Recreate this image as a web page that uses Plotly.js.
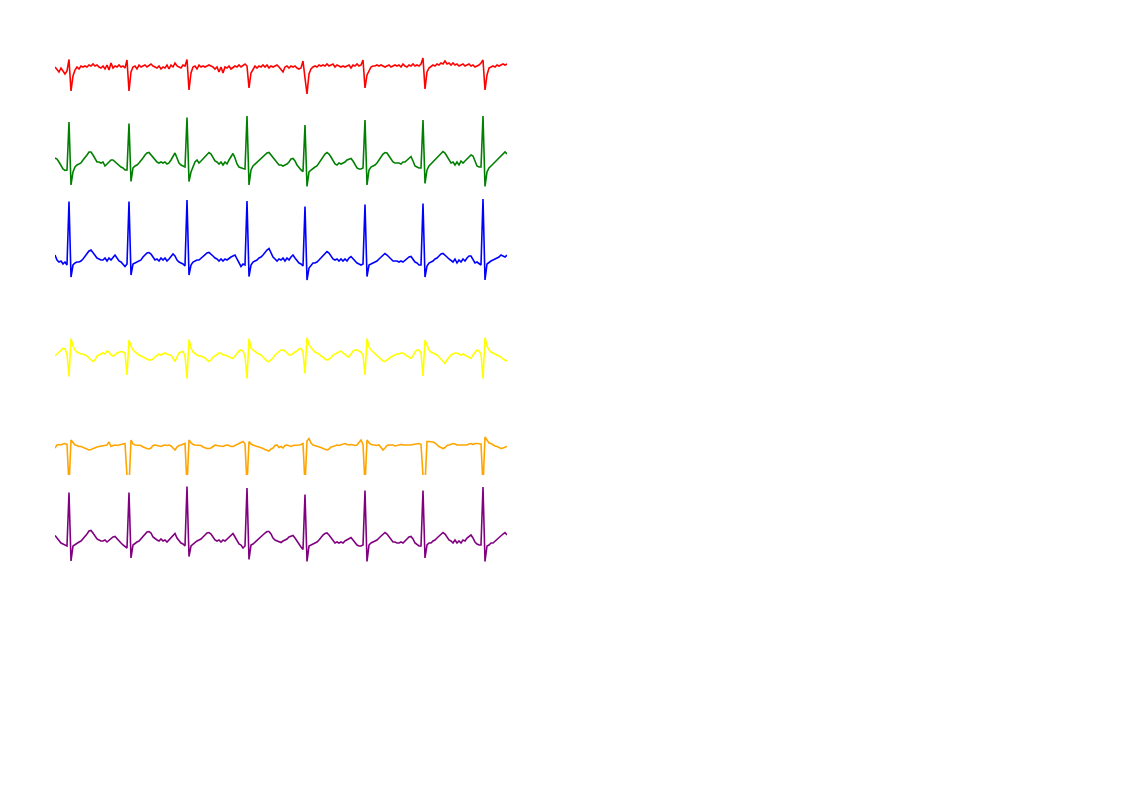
<!DOCTYPE html>
<html>
<head>
<meta charset="utf-8">
<script src="https://cdn.plot.ly/plotly-3.0.1.min.js"></script>
<style>
html,body{margin:0;padding:0;background:#ffffff;}
#chart{width:1122px;height:793px;}
</style>
</head>
<body>
<div id="chart"></div>
<script>
// Sampling interval of every lead, seconds
const sampleInterval = 0.025;

const leadNames = ['I', 'II', 'III', 'aVR', 'aVL', 'aVF'];

// Lead values in mV, one sample per interval
const leadI = [
  .02,-.04,-.08,0,-.06,-.12,-.06,.17,-.46,-.16,
  -.04,.02,-.02,.04,.02,.04,.02,.06,.04,.08,
  .04,.06,.02,0,.04,-.02,.06,-.04,.10,0,
  .04,.02,.06,.02,.04,0,.16,-.46,-.08,.02,
  .04,-.02,.06,.02,.04,.06,.02,.06,.08,.04,
  .02,0,.04,-.02,.02,0,.06,-.02,.06,.02,
  .10,.04,.02,0,.06,.04,.17,-.44,-.10,.02,
  .04,-.02,.06,.02,.04,.02,.04,.06,.04,.02,
  -.02,.02,-.08,.02,-.10,.02,0,.04,-.02,.02,
  .04,.02,.06,.02,.06,.08,.04,-.40,-.10,-.02,
  .04,0,.04,.02,.06,.02,.06,0,.04,.02,
  .04,.06,.02,-.04,-.08,.02,.04,0,.04,.02,
  .04,0,-.02,0,.14,-.20,-.52,-.12,-.02,.02,
  .04,.02,.06,.04,.06,.04,.08,.04,.06,.08,
  .02,.06,.04,.02,.04,.02,.04,.06,0,.06,
  .04,.08,.04,.06,.16,-.40,-.14,-.04,.02,.04,
  .04,.06,.04,.06,.04,.02,.04,.06,.02,.04,
  .06,.04,.06,.02,.08,.04,.02,.06,.04,.08,
  .04,.06,.04,.08,.20,-.42,-.08,0,.04,.06,
  .04,.08,.06,.10,.08,.14,.08,.10,.06,.10,
  .06,.08,.04,.06,.08,.04,.06,.08,.04,.06,
  .02,.04,.06,.10,.16,-.44,-.14,0,.02,.04,
  .02,.06,.04,.06,.08,.06,.08
];

const leadII = [
  .08,.06,0,-.08,-.14,-.17,-.16,.80,-.46,-.20,
  -.10,-.06,-.04,-.02,.04,.08,.14,.20,.20,.14,
  .06,0,0,-.02,0,-.08,-.04,0,.04,.04,
  0,-.04,-.08,-.10,-.12,-.16,-.16,.77,-.39,-.12,
  -.08,-.06,-.02,.02,.08,.14,.18,.19,.14,.08,
  .04,0,-.02,0,-.02,0,-.04,-.02,.04,.12,
  .18,.08,-.02,-.06,-.08,-.10,.89,-.39,-.20,-.08,
  0,.04,-.02,.02,.06,.10,.16,.19,.16,.08,
  .02,0,-.04,0,-.06,0,-.04,.04,.12,.17,
  .08,-.04,-.10,-.12,-.13,-.14,.92,-.46,-.16,-.08,
  -.04,0,.02,.06,.10,.14,.18,.19,.14,.08,
  .02,-.02,-.06,-.06,-.08,-.06,-.04,0,.06,.07,
  .02,-.06,-.12,-.16,-.19,.74,-.49,-.20,-.16,-.12,
  -.10,-.08,-.02,.06,.12,.16,.19,.16,.10,.02,
  -.04,-.06,-.02,-.04,-.02,0,.04,.06,.07,.02,
  -.06,-.12,-.14,-.14,-.12,.84,-.46,-.16,-.10,-.08,
  -.06,-.02,.04,.10,.16,.19,.18,.12,.06,0,
  -.02,-.02,-.02,-.04,0,0,.04,.08,.11,.02,
  -.08,-.10,-.12,-.12,.84,-.43,-.16,-.08,-.04,0,
  .04,.08,.12,.18,.21,.18,.12,.04,-.02,0,
  -.06,0,-.06,.02,-.02,.02,.06,.10,.14,.12,
  0,-.08,-.10,-.10,.92,-.49,-.20,-.12,-.08,-.03,
  0,.04,.08,.10,.14,.20,.16
];

const leadIII = [
  .08,-.02,-.06,-.04,-.10,-.06,-.12,1.15,-.36,-.12,
  -.08,-.06,-.06,-.04,0,.06,.12,.16,.18,.12,
  .06,.02,0,-.02,-.02,.02,-.04,.02,-.02,.04,
  .08,.02,-.04,-.06,-.10,-.15,-.10,1.15,-.32,-.10,
  -.08,-.06,-.04,-.02,.04,.08,.12,.13,.10,.04,
  -.02,0,-.04,.02,-.02,.02,-.04,0,.04,.10,
  .06,-.02,-.06,-.08,-.10,-.14,1.18,-.32,-.12,-.06,
  -.04,-.02,-.02,.02,.04,.08,.12,.13,.10,.06,
  .02,0,-.04,0,-.04,0,-.02,.02,.04,.06,
  .08,0,-.08,-.15,-.10,-.12,1.16,-.35,-.12,-.06,
  -.04,-.02,.02,.04,.08,.14,.18,.21,.12,.04,
  0,-.04,0,-.02,.02,-.04,.02,-.02,.04,.08,
  .02,-.04,-.08,-.10,-.14,1.05,-.42,-.18,-.12,-.08,
  -.08,-.06,-.02,.02,.08,.12,.15,.12,.06,0,
  -.02,0,-.04,0,-.04,0,-.04,.02,.05,0,
  -.04,-.08,-.10,-.12,-.10,1.09,-.35,-.12,-.10,-.08,
  -.06,-.04,0,.04,.08,.11,.08,.04,0,-.04,
  -.04,-.04,-.06,-.04,-.06,-.02,0,.04,.05,0,
  -.06,-.08,-.12,-.12,1.11,-.36,-.14,-.08,-.06,-.04,
  0,.02,.06,.10,.11,.08,.04,0,-.04,-.06,
  0,-.08,-.02,-.06,0,-.04,.02,.06,.06,-.02,
  -.08,-.06,-.10,-.12,1.20,-.42,-.10,-.06,-.04,-.02,
  0,.02,.04,.08,.06,.04,.08
];

const leadAVR = [
  -.02,.02,.06,.10,.13,.12,.02,-.43,.33,.18,
  .10,.06,.04,.02,.02,0,-.02,-.06,-.10,-.13,
  -.10,-.02,0,.02,.04,.02,.08,.06,0,-.02,
  0,.04,.06,.07,.06,.04,-.40,.30,.18,.10,
  .06,.02,0,-.02,-.04,-.06,-.08,-.10,-.10,-.08,
  -.04,0,.02,0,.02,.04,.02,0,0,-.06,
  -.13,-.04,.04,.06,.07,-.02,-.47,.31,.14,.06,
  .02,0,-.02,-.02,-.04,-.06,-.10,-.13,-.10,-.04,
  -.02,.02,.04,.04,0,0,-.02,-.04,-.06,-.07,
  -.02,.04,.08,.10,.08,-.02,-.47,.33,.14,.10,
  .06,.04,.02,0,-.04,-.08,-.12,-.13,-.10,-.06,
  0,.04,.06,.10,.10,.08,.04,0,0,.04,
  .06,.08,.12,.13,.06,-.37,.35,.20,.14,.10,
  .06,.04,.02,-.02,-.04,-.08,-.10,-.08,-.06,0,
  .02,.04,.06,.08,.04,0,-.02,-.04,.02,.08,
  .10,.10,.08,.06,0,-.40,.33,.16,.10,.06,
  .02,0,-.04,-.08,-.12,-.13,-.10,-.06,-.04,-.02,
  0,.02,.02,.04,.04,0,-.02,-.04,-.07,-.02,
  .06,.10,.10,.04,-.42,.30,.18,.10,.06,.04,
  .02,0,-.04,-.08,-.12,-.17,-.10,-.04,0,.02,
  .04,.04,.02,0,.02,0,-.02,-.04,-.07,0,
  .06,.10,.08,.02,-.47,.35,.18,.10,.06,.04,
  .02,0,-.02,-.04,-.08,-.10,-.12
];

const leadAVL = [
  -.04,.02,.03,.02,.04,.05,.03,-.80,.12,.06,
  .02,.01,-.01,-.01,-.03,-.05,-.06,-.08,-.07,-.05,
  -.04,-.02,-.01,0,.01,.02,.02,.08,-.01,.01,
  .02,.01,.02,.04,.05,.05,-.60,-.81,.12,.04,
  .02,.02,.01,.01,-.02,-.04,-.05,-.06,-.04,.01,
  .02,.01,0,-.01,.01,.02,.01,.02,0,-.05,
  -.08,-.02,.01,.02,.04,.05,-.81,.12,.06,.03,
  .02,.02,.02,.01,-.02,-.04,-.05,-.05,-.04,-.01,
  .02,.01,0,-.01,-.01,.01,.02,.01,-.01,-.01,
  .01,.03,.05,.07,.09,.04,-.78,.09,.04,.02,
  0,-.01,-.02,-.03,-.05,-.07,-.09,-.10,-.06,-.04,
  .01,.02,-.03,-.01,-.04,.01,.02,0,-.01,.01,
  .01,.02,.02,.03,.05,-.78,.10,.15,.06,.02,
  .01,-.01,-.02,-.03,-.05,-.07,-.08,-.06,-.02,-.01,
  .01,.02,.01,.02,.04,.05,.03,.02,.03,.02,
  .01,.02,.06,.12,.03,-.78,.12,.06,.03,.02,
  .02,.01,.02,-.03,-.08,-.04,.01,.02,.02,.02,
  0,.01,.02,.03,.02,.02,.01,.02,.02,.03,
  .04,.05,.05,.03,-.60,-.78,.09,.09,.09,.08,
  .06,.02,-.01,-.03,-.05,-.03,.01,.02,.03,.05,
  .04,.02,.02,.02,.03,.02,.02,.04,.05,.03,
  .05,.05,.04,.04,-.81,.18,.12,.06,.05,.02,
  0,-.01,-.03,-.05,-.04,-.02,-.01
];

const leadAVF = [
  .09,.04,-.02,-.06,-.08,-.10,-.12,.95,-.42,-.12,
  -.09,-.06,-.04,-.02,.02,.08,.12,.18,.19,.14,
  .08,.02,0,-.02,-.02,0,-.04,0,.02,.06,
  .07,.02,-.02,-.06,-.10,-.14,-.16,.95,-.36,-.10,
  -.06,-.04,-.02,.02,.08,.12,.16,.17,.14,.06,
  .02,0,-.02,.02,-.02,0,-.04,0,.04,.10,
  .13,.04,-.02,-.06,-.08,-.12,1.07,-.33,-.12,-.08,
  -.04,-.02,0,.02,.06,.10,.14,.15,.12,.06,
  0,-.02,0,-.04,0,-.02,.02,.06,.10,.13,
  .06,-.02,-.08,-.10,-.16,-.12,1.04,-.39,-.10,-.08,
  -.04,-.02,.02,.06,.10,.14,.17,.17,.12,.04,
  0,-.02,-.04,-.05,-.02,0,.02,.06,.08,.09,
  .04,-.02,-.10,-.14,-.19,.91,-.43,-.12,-.10,-.08,
  -.06,-.04,0,.06,.10,.13,.14,.10,.04,-.02,
  -.06,-.04,-.06,-.04,-.06,-.02,0,.02,.05,0,
  -.06,-.10,-.12,-.12,-.10,.99,-.43,-.10,-.06,-.04,
  -.02,0,.04,.08,.12,.15,.12,.06,.02,-.04,
  -.04,-.06,-.06,-.04,-.06,-.02,.02,.06,.07,.02,
  -.06,-.10,-.12,-.12,.99,-.36,-.10,-.06,-.06,-.02,
  0,.04,.08,.12,.15,.12,.06,0,-.02,-.06,
  0,-.06,-.02,-.06,0,-.02,.04,.08,.10,.04,
  -.04,-.08,-.10,-.10,1.06,-.43,-.12,-.10,-.06,-.06,
  -.02,0,.04,.08,.12,.15,.10
];

const leads = [leadI, leadII, leadIII, leadAVR, leadAVL, leadAVF];

// ---- styling / layout (not data) ----
const leadColors = ['red', 'green', 'blue', 'yellow', 'orange', 'purple'];
const baselinePx = [68, 162, 259, 355, 446, 540];
const W = 1122, H = 793;
const pxPerMv = 50;
const halfRangeMv = 1.3;

const traces = leads.map((vals, k) => ({
  type: 'scatter',
  mode: 'lines',
  name: leadNames[k],
  y: vals,
  x0: 0,
  dx: sampleInterval,
  xaxis: 'x',
  yaxis: k === 0 ? 'y' : 'y' + (k + 1),
  line: {color: leadColors[k], width: 1.6},
  hoverinfo: 'skip',
  showlegend: false
}));

const nSamples = leadI.length;
const layout = {
  width: W,
  height: H,
  margin: {l: 55, r: W - 507, t: 0, b: 0, pad: 0},
  paper_bgcolor: '#ffffff',
  plot_bgcolor: '#ffffff',
  showlegend: false,
  xaxis: {
    range: [0, (nSamples - 1) * sampleInterval],
    visible: false,
    showgrid: false,
    zeroline: false,
    fixedrange: true
  }
};
baselinePx.forEach((b, k) => {
  const halfPx = halfRangeMv * pxPerMv;
  const key = k === 0 ? 'yaxis' : 'yaxis' + (k + 1);
  layout[key] = {
    range: [-halfRangeMv, halfRangeMv],
    domain: [(H - (b + halfPx)) / H, (H - (b - halfPx)) / H],
    anchor: 'x',
    visible: false,
    showgrid: false,
    zeroline: false,
    fixedrange: true
  };
});

Plotly.newPlot('chart', traces, layout, {displayModeBar: false, staticPlot: true});
</script>
</body>
</html>
